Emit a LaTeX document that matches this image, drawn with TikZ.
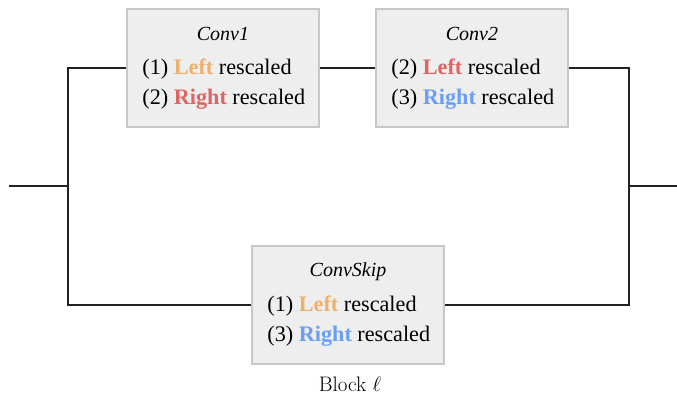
\documentclass[tikz,border=0pt]{standalone}
\usepackage{fontspec}
\newfontfamily\tnr{Liberation Serif}
\definecolor{cOrange}{HTML}{EDB06D}
\definecolor{cRed}{HTML}{E06464}
\definecolor{cBlue}{HTML}{6A9EF7}
\definecolor{boxfill}{HTML}{EEEEEE}
\definecolor{boxline}{HTML}{C8C8C8}
\definecolor{wire}{HTML}{222222}
\tikzset{
  convbox/.style={draw=boxline, fill=boxfill, line width=1.5pt, minimum width=192pt, minimum height=118pt, inner sep=0pt},
  title/.style={font=\tnr\fontsize{20}{24}\selectfont\itshape, inner sep=0pt, anchor=center},
  row/.style={font=\tnr\fontsize{22.2}{26}\selectfont, inner sep=0pt, anchor=west},
  wireline/.style={draw=wire, line width=1.5pt}
}
\newcommand{\lft}[1]{\textbf{\color{#1}Left}}
\newcommand{\rgt}[1]{\textbf{\color{#1}Right}}
\begin{document}
\begin{tikzpicture}[x=1pt,y=-1pt]
\useasboundingbox (0,0) rectangle (677,396);
% boxes
\node[convbox] (c1) at (223,68) {};
\node[convbox] (c2) at (472,68) {};
\node[convbox] (sk) at (348,305) {};
% texts
\node[title] (c1t) at ([yshift=-26pt]c1.north) {Conv1};
\node[row] (c1a) at ([xshift=16pt,yshift=-61pt]c1.north west) {(1) \lft{cOrange} rescaled};
\node[row] (c1b) at ([xshift=16pt,yshift=-91pt]c1.north west) {(2) \rgt{cRed} rescaled};
\node[title] (c2t) at ([yshift=-26pt]c2.north) {Conv2};
\node[row] (c2a) at ([xshift=16pt,yshift=-61pt]c2.north west) {(2) \lft{cRed} rescaled};
\node[row] (c2b) at ([xshift=16pt,yshift=-91pt]c2.north west) {(3) \rgt{cBlue} rescaled};
\node[title] (skt) at ([yshift=-26pt]sk.north) {ConvSkip};
\node[row] (ska) at ([xshift=16pt,yshift=-61pt]sk.north west) {(1) \lft{cOrange} rescaled};
\node[row] (skb) at ([xshift=16pt,yshift=-91pt]sk.north west) {(3) \rgt{cBlue} rescaled};
\node[font=\fontsize{21}{25}\selectfont, inner sep=0pt] (blk) at (350,384) {Block $\ell$};
% wiring
\coordinate (in) at (9,186);
\coordinate (jl) at (68,186);
\coordinate (jr) at (629,186);
\coordinate (out) at (677,186);
\draw[wireline] (in) -- (jl);
\draw[wireline] (c1.west) -| (jl) |- (sk.west);
\draw[wireline] (c1.east) -- (c2.west);
\draw[wireline] (c2.east) -| (jr) |- (sk.east);
\draw[wireline] (jr) -- (out);
\end{tikzpicture}
\end{document}
